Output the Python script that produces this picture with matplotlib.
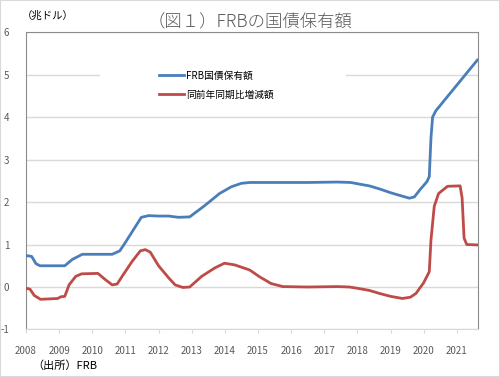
import numpy as np
import matplotlib
matplotlib.use('Agg')
import matplotlib.pyplot as plt
from matplotlib.patches import Rectangle

plt.rcParams['font.family'] = ['Noto Sans CJK JP', 'DejaVu Sans']

# FRB国債保有額 (兆ドル)
Anio_frb = [2008.0, 2008.17, 2008.3, 2008.42, 2009.0, 2009.17, 2009.4, 2009.7, 2010.0, 2010.6,
            2010.83, 2011.0, 2011.48, 2011.7, 2012.0, 2012.3, 2012.6, 2012.94, 2013.4, 2013.84,
            2014.2, 2014.5, 2014.75, 2015.5, 2016.5, 2017.4, 2017.8, 2018.0, 2018.36, 2018.66,
            2019.0, 2019.3, 2019.57, 2019.72, 2019.9, 2020.1, 2020.17, 2020.22, 2020.27, 2020.37,
            2021.0, 2021.62]
Saldo = [0.74, 0.72, 0.55, 0.50, 0.50, 0.50, 0.65, 0.77, 0.77, 0.77,
         0.85, 1.05, 1.64, 1.68, 1.67, 1.67, 1.64, 1.65, 1.92, 2.20,
         2.36, 2.44, 2.46, 2.46, 2.46, 2.47, 2.46, 2.43, 2.38, 2.31,
         2.22, 2.15, 2.09, 2.12, 2.30, 2.48, 2.60, 3.50, 4.00, 4.15,
         4.75, 5.34]

# 同前年同期比増減額
Anio_var = [2008.0, 2008.12, 2008.25, 2008.44, 2008.7, 2008.96, 2009.05, 2009.17, 2009.3, 2009.5,
            2009.68, 2010.17, 2010.4, 2010.6, 2010.75, 2010.9, 2011.2, 2011.45, 2011.6, 2011.75,
            2012.0, 2012.3, 2012.5, 2012.73, 2012.94, 2013.3, 2013.7, 2013.99, 2014.3, 2014.75,
            2015.05, 2015.4, 2015.75, 2016.5, 2017.4, 2017.76, 2018.0, 2018.36, 2018.66, 2019.0,
            2019.36, 2019.6, 2019.77, 2020.0, 2020.17, 2020.22, 2020.32, 2020.45, 2020.72, 2021.1,
            2021.16, 2021.22, 2021.3, 2021.64]
Variacion = [-0.03, -0.05, -0.20, -0.29, -0.28, -0.27, -0.23, -0.22, 0.05, 0.25,
             0.31, 0.32, 0.17, 0.05, 0.07, 0.25, 0.60, 0.85, 0.88, 0.82,
             0.50, 0.22, 0.05, -0.01, 0.00, 0.25, 0.45, 0.56, 0.52, 0.40,
             0.24, 0.08, 0.01, 0.00, 0.01, 0.00, -0.03, -0.08, -0.15, -0.22,
             -0.27, -0.24, -0.15, 0.10, 0.36, 1.10, 1.90, 2.20, 2.37, 2.38,
             2.10, 1.15, 1.00, 0.99]

Anios = list(range(2008, 2022))
Yticks = list(range(-1, 7))

fig = plt.figure(figsize=(5, 3.77), dpi=100)
ax = fig.add_axes([0.052, 0.126, 0.904, 0.789])

ax.plot(Anio_frb, Saldo, color='#4A7EBB', lw=2.0, label='FRB国債保有額', zorder=3)
ax.plot(Anio_var, Variacion, color='#BE4B48', lw=2.0, label='同前年同期比増減額', zorder=3)

ax.set_xlim(2008, 2021.64)
ax.set_ylim(-1, 6)
ax.set_xticks(Anios)
ax.set_xticklabels([str(a) for a in Anios], fontsize=7, color='#595959')
ax.set_yticks(Yticks)
ax.set_yticklabels([str(y) for y in Yticks], fontsize=7, color='#595959')
ax.tick_params(axis='y', length=0, pad=12)
ax.tick_params(axis='x', length=3, color='#d9d9d9', pad=9)
ax.grid(axis='y', color='#d9d9d9', lw=1)
ax.set_axisbelow(True)
for s in ['left', 'top', 'right']:
    ax.spines[s].set_color('#8c8c8c')
ax.spines['bottom'].set_color('#d9d9d9')

# fondo blanco de la leyenda
ax.add_patch(Rectangle((100 / 500, 1 - 112 / 377), 246 / 500, 57 / 377, transform=fig.transFigure,
                       facecolor='white', edgecolor='none', zorder=2))
leg = ax.legend(loc='upper left', bbox_to_anchor=(150 / 500, 1 - 62 / 377), bbox_transform=fig.transFigure,
                frameon=False, fontsize=7, handlelength=2.6, handletextpad=0.2, labelspacing=0.9)

fig.text(0.5, 1 - 22 / 377, '（図１）FRBの国債保有額', ha='center', va='center', fontsize=12.5,
         color='#595959', fontweight='light')
fig.text(22 / 500, 1 - 16 / 377, '（兆ドル）', ha='left', va='center', fontsize=7.5, color='black')
fig.text(32 / 500, 1 - 366 / 377, '（出所）FRB', ha='left', va='center', fontsize=8, color='black')

fig.add_artist(Rectangle((0, 0), 1, 1, transform=fig.transFigure, fill=False,
                         edgecolor='#d9d9d9', lw=1.5))

plt.savefig('out.png', dpi=100)
